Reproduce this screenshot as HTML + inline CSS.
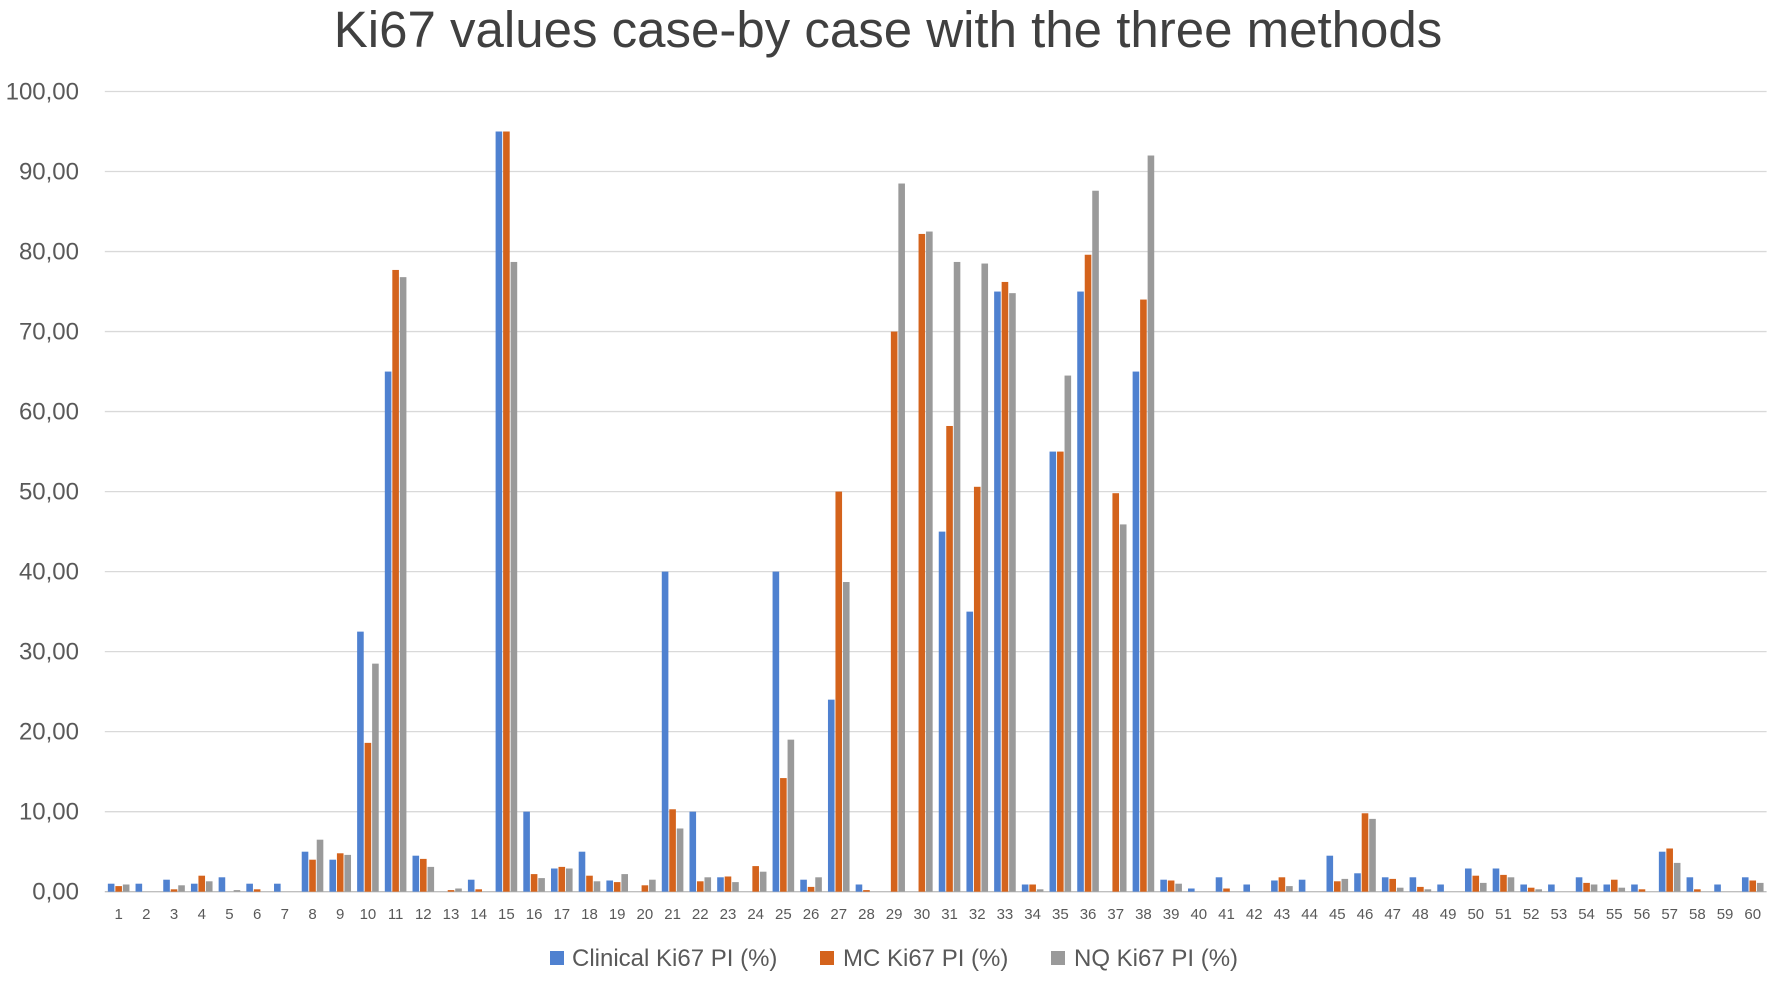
<!DOCTYPE html>
<html><head><meta charset="utf-8"><style>
html,body{margin:0;padding:0;background:#fff;width:1772px;height:982px;overflow:hidden}
svg{display:block;font-family:"Liberation Sans",sans-serif}
</style></head><body>
<svg id="chart" width="1772" height="982" viewBox="0 0 1772 982">
<text x="888" y="47" text-anchor="middle" font-size="51" fill="#404040">Ki67 values case-by case with the three methods</text>
<g id="grid"></g><g id="bars"></g><g id="xlabels"></g>
<g>
<g><rect x="550" y="951" width="14" height="14" fill="#4F81D0"/><text x="572" y="966" font-size="24" fill="#595959">Clinical Ki67 PI (%)</text></g>
<g><rect x="820" y="951" width="14" height="14" fill="#D4631C"/><text x="843" y="966" font-size="24" fill="#595959">MC Ki67 PI (%)</text></g>
<g><rect x="1051" y="951" width="14" height="14" fill="#9A9A9A"/><text x="1074" y="966" font-size="24" fill="#595959">NQ Ki67 PI (%)</text></g>
</g>
</svg>
<script>
const cases = Array.from({length:60},(_,i)=>String(i+1));
const clinical = [1,1,1.5,1,1.8,1,1,5,4,32.5,65,4.5,0,1.5,95,10,2.9,5,1.4,0,40,10,1.8,0,40,1.5,24,0.9,0,0,45,35,75,0.9,55,75,0,65,1.5,0.4,1.8,0.9,1.4,1.5,4.5,2.3,1.8,1.8,0.9,2.9,2.9,0.9,0.9,1.8,0.9,0.9,5,1.8,0.9,1.8];
const mc = [0.7,0,0.3,2,0,0.3,0,4,4.8,18.6,77.7,4.1,0.2,0.3,95,2.2,3.1,2,1.2,0.8,10.3,1.3,1.9,3.2,14.2,0.6,50,0.2,70,82.2,58.2,50.6,76.2,0.9,55,79.6,49.8,74,1.4,0,0.4,0,1.8,0,1.3,9.8,1.6,0.6,0,2,2.1,0.5,0,1.1,1.5,0.3,5.4,0.3,0,1.4];
const nq = [0.9,0,0.8,1.3,0.2,0,0,6.5,4.6,28.5,76.8,3.1,0.4,0,78.7,1.7,2.9,1.3,2.2,1.5,7.9,1.8,1.2,2.5,19,1.8,38.7,0,88.5,82.5,78.7,78.5,74.8,0.3,64.5,87.6,45.9,92,1,0,0,0,0.7,0,1.6,9.1,0.5,0.3,0,1.1,1.8,0.3,0,0.9,0.5,0,3.6,0,0,1.1];
const yTicks = [0,10,20,30,40,50,60,70,80,90,100];
const yTickLabels = ["0,00","10,00","20,00","30,00","40,00","50,00","60,00","70,00","80,00","90,00","100,00"];

const NS="http://www.w3.org/2000/svg";
const L=104.8,R=1766.6,Y0=891.7,Y100=91.5;
const bw=(R-L)/cases.length;
const y=v=>Y0-(v/100)*(Y0-Y100);
const x=i=>L+i*bw;
function mk(t,a){const e=document.createElementNS(NS,t);for(const k in a)e.setAttribute(k,a[k]);return e;}
const grid=document.getElementById('grid');
yTicks.forEach((v,i)=>{
  const ln=mk('line',{x1:L,x2:R,y1:y(v),y2:y(v),stroke:v===0?'#bfbfbf':'#d9d9d9','stroke-width':1.3});
  
  
  grid.appendChild(ln);
  const t=mk('text',{x:79,y:y(v)+8,'text-anchor':'end','font-size':24,fill:'#595959'});
  t.textContent=yTickLabels[i];
  
  
  grid.appendChild(t);
});
const bars=document.getElementById('bars');
const series=[[clinical,'#4F81D0','clinical'],[mc,'#D4631C','mc'],[nq,'#9A9A9A','nq']];
const W=6.6,G=0.9,grp=3*W+2*G;
cases.forEach((c,i)=>{
  const cx=x(i)+bw/2;
  series.forEach((s,j)=>{
    const v=s[0][i];
    const r=mk('rect',{x:cx-grp/2+j*(W+G),y:y(v),width:W,height:Math.max(0,Y0-y(v)),fill:s[1]});
    
    
    bars.appendChild(r);
  });
  const t=mk('text',{x:cx,y:919,'text-anchor':'middle','font-size':15,fill:'#595959'});
  t.textContent=c;
  
  
  document.getElementById('xlabels').appendChild(t);
});
</script>
</body></html>
